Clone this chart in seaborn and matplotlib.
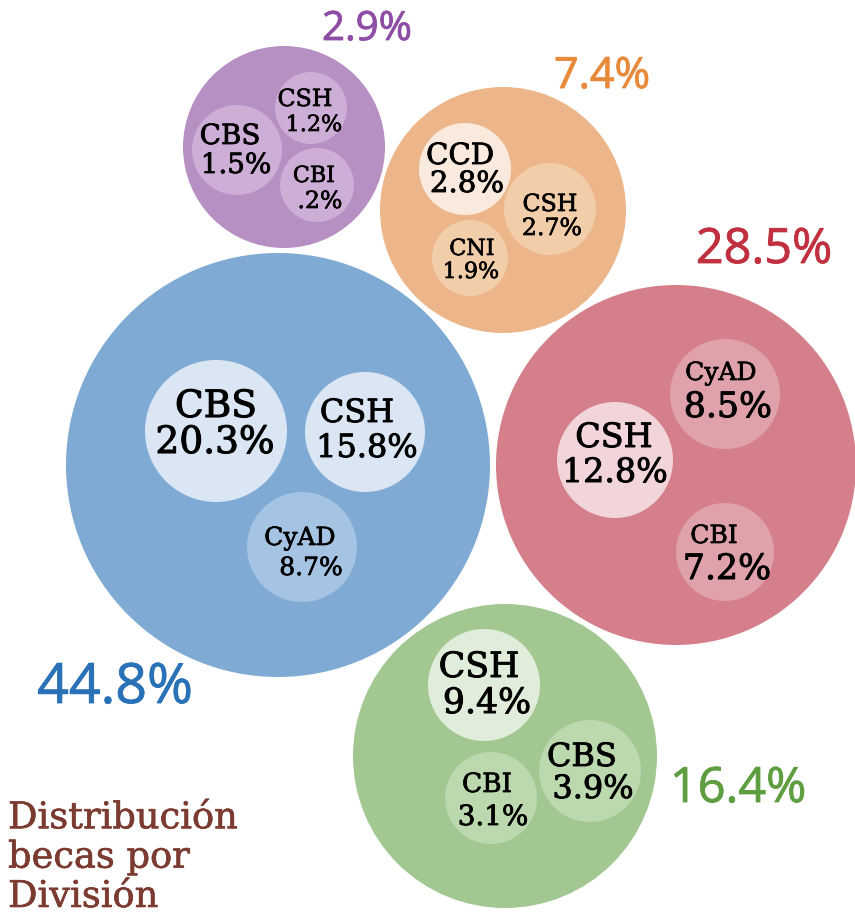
import matplotlib.pyplot as plt
import matplotlib.patheffects as pe
from matplotlib.patches import Circle
import seaborn as sns

# share of becas per division (outer circles)
divisions = ["azul", "rojo", "verde", "naranja", "morado"]
division_pct = [44.8, 28.5, 16.4, 7.4, 2.9]

# sub-groups inside each division
blue_names = ["CBS", "CSH", "CyAD"]
blue_vals = [20.3, 15.8, 8.7]
red_names = ["CSH", "CyAD", "CBI"]
red_vals = [12.8, 8.5, 7.2]
green_names = ["CSH", "CBS", "CBI"]
green_vals = [9.4, 3.9, 3.1]
orange_names = ["CCD", "CSH", "CNI"]
orange_vals = [2.8, 2.7, 1.9]
purple_names = ["CBS", "CSH", "CBI"]
purple_vals = [1.5, 1.2, 0.2]

title = "Distribución\nbecas por\nDivisión"

# layout (pixels, y downwards)
outer_xy = [(278, 465), (676, 465), (505, 756), (503, 210), (284, 147)]
outer_r = [212, 180, 152, 123, 101]
outer_fill = ["#7eaad4", "#d47f89", "#a3c791", "#ecb68a", "#b690c3"]
outer_text = ["#2a72b8", "#c0303f", "#5e9e40", "#e88a3a", "#8e4ea6"]
outer_lbl_xy = [(115, 703), (764, 263), (738, 802), (602, 88), (367, 40)]
outer_lbl_size = [40, 35, 35, 31, 29]

inner_xy = [
    [(216, 431), (365, 432), (302, 547)],
    [(615, 460), (725, 394), (725, 552)],
    [(484, 685), (590, 771), (491, 798)],
    [(465, 169), (550, 209), (470, 258)],
    [(237, 150), (311, 108), (317, 185)],
]
inner_r = [
    [71, 60, 55],
    [58, 55, 49],
    [56, 51, 46],
    [46, 46, 38],
    [45, 36, 37],
]
inner_fill = [
    ["#dae6f3", "#dae6f3", "#a5c3e2"],
    ["#f2d5da", "#e0a2aa", "#e0a2aa"],
    ["#e1eddb", "#bcd8af", "#bcd8af"],
    ["#faeadd", "#f2cda9", "#f2cda9"],
    ["#cdaed6", "#cdaed6", "#cdaed6"],
]
# (x_name, baseline_name, x_pct, baseline_pct, size_name, size_pct)
inner_lbl = [
    [(216, 417, 215, 453, 27, 27), (357, 422, 367, 457, 23, 23), (300, 545, 311, 575, 18, 18)],
    [(614, 447, 615, 482, 24, 24), (721, 380, 728, 417, 18, 25), (714, 543, 727, 579, 18, 25)],
    [(479, 677, 487, 713, 25, 25), (582, 766, 593, 798, 23, 23), (487, 792, 493, 825, 19, 20)],
    [(460, 164, 467, 192, 21, 21), (550, 211, 552, 235, 17, 17), (472, 255, 471, 278, 16, 16)],
    [(230, 144, 236, 173, 20, 20), (305, 106, 314, 131, 17, 16), (314, 182, 320, 208, 16, 17)],
]


def fmt(v):
    s = f"{v:.1f}%"
    return s[1:] if s.startswith("0") else s


def heavy(size, col="black"):
    # thicken the slab font a bit, less for the small labels
    return [pe.withStroke(linewidth=0.028 * size, foreground=col)]


sns.set_theme(style="white")
slab = ["DejaVu Serif"]
sans = ["Open Sans", "DejaVu Sans"]

fig = plt.figure(figsize=(8.55, 9.14), dpi=100)
ax = fig.add_axes([0, 0, 1, 1])
ax.set_xlim(0, 855)
ax.set_ylim(914, 0)
ax.set_aspect("equal")
ax.axis("off")

groups = [
    (blue_names, blue_vals),
    (red_names, red_vals),
    (green_names, green_vals),
    (orange_names, orange_vals),
    (purple_names, purple_vals),
]

for i, (names, vals) in enumerate(groups):
    ax.add_patch(Circle(outer_xy[i], outer_r[i], color=outer_fill[i], lw=0))
    x, y = outer_lbl_xy[i]
    ax.text(x, y, fmt(division_pct[i]), color=outer_text[i], fontsize=outer_lbl_size[i],
            family=sans, ha="center", va="baseline",
            path_effects=[pe.withStroke(linewidth=0.6, foreground=outer_text[i])])
    for j in range(len(names)):
        ax.add_patch(Circle(inner_xy[i][j], inner_r[i][j], color=inner_fill[i][j], lw=0))
        xn, yn, xp, yp, sn, sp = inner_lbl[i][j]
        ax.text(xn, yn, names[j], fontsize=sn, family=slab, color="black",
                ha="center", va="baseline", path_effects=heavy(sn))
        ax.text(xp, yp, fmt(vals[j]), fontsize=sp, family=slab, color="black",
                ha="center", va="baseline", path_effects=heavy(sp))

ax.text(8, 907, title, fontsize=26.5, family=slab, color="#7c3b31",
        ha="left", va="baseline", linespacing=1.12,
        path_effects=heavy(16, "#7c3b31"))

fig.savefig("out.png", dpi=100)
